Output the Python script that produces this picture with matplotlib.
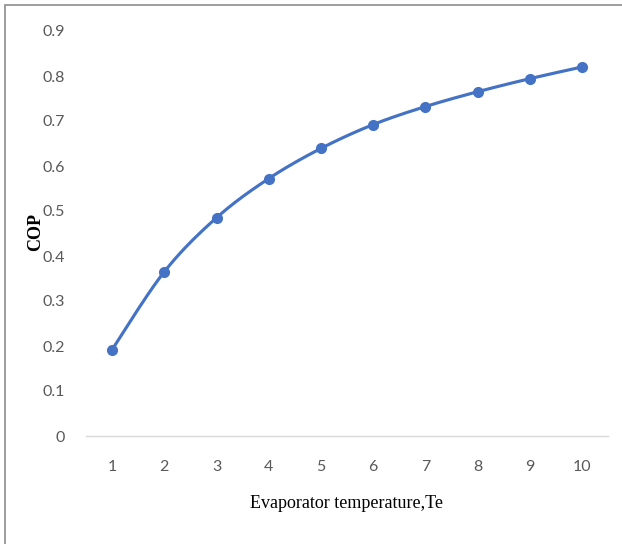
import numpy as np
import matplotlib
matplotlib.use("Agg")
import matplotlib.pyplot as plt
from matplotlib.patches import Rectangle

temps = [1, 2, 3, 4, 5, 6, 7, 8, 9, 10]
cop = [0.192, 0.365, 0.485, 0.572, 0.639, 0.692, 0.732, 0.765, 0.794, 0.820]
yticks = [0, 0.1, 0.2, 0.3, 0.4, 0.5, 0.6, 0.7, 0.8, 0.9]
ytick_labels = ["0", "0.1", "0.2", "0.3", "0.4", "0.5", "0.6", "0.7", "0.8", "0.9"]

BLUE = "#4472C4"
TICKC = "#595959"
tick_font = ["Lato", "DejaVu Sans"]
serif = ["Liberation Serif", "DejaVu Serif"]


def smooth(x, y, n=20):
    # Excel-like smoothing: cardinal spline with duplicated end points
    x = np.asarray(x, float)
    y = np.asarray(y, float)
    px = np.concatenate([[x[0]], x, [x[-1]]])
    py = np.concatenate([[y[0]], y, [y[-1]]])
    xs, ys = [], []
    t = np.linspace(0, 1, n, endpoint=False)
    for i in range(1, len(px) - 2):
        for P, out in ((px, xs), (py, ys)):
            p1, p2 = P[i], P[i + 1]
            c1 = p1 + (P[i + 1] - P[i - 1]) / 6
            c2 = p2 - (P[i + 2] - P[i]) / 6
            out.extend((1 - t) ** 3 * p1 + 3 * (1 - t) ** 2 * t * c1
                       + 3 * (1 - t) * t ** 2 * c2 + t ** 3 * p2)
    xs.append(x[-1])
    ys.append(y[-1])
    return np.array(xs), np.array(ys)


W, H = 622, 544
fig = plt.figure(figsize=(W / 100, H / 100), dpi=100)
fig.patch.set_facecolor("white")

left, right, top, bottom = 86, 608, 31, 436
ax = fig.add_axes([left / W, 1 - bottom / H, (right - left) / W, (bottom - top) / H])

sx, sy = smooth(temps, cop)
ax.plot(sx, sy, color=BLUE, lw=2.25, solid_capstyle="round", zorder=2)
ax.plot(temps, cop, ls="none", marker="o", ms=7, color=BLUE, zorder=3)

ax.set_xlim(0.5, 10.5)
ax.set_ylim(0, 0.9)
ax.set_xticks(temps)
ax.set_xticklabels([str(t) for t in temps], family=tick_font, fontsize=11.5, color=TICKC)
ax.set_yticks(yticks)
ax.set_yticklabels(ytick_labels, family=tick_font, fontsize=11.5, color=TICKC)
ax.tick_params(axis="both", length=0)
ax.tick_params(axis="y", pad=15)
ax.tick_params(axis="x", pad=17)

for s in ("top", "right", "left"):
    ax.spines[s].set_visible(False)
ax.spines["bottom"].set_color("#D9D9D9")
ax.spines["bottom"].set_linewidth(1.0)

fig.text(36 / W, 1 - 232 / H, "COP", rotation=90, ha="center", va="center",
         family=serif, fontweight="bold", fontsize=13, color="black")
fig.text(347 / W, 1 - 503 / H, "Evaporator temperature,Te", ha="center", va="center",
         family=serif, fontsize=13, color="black")

fig.add_artist(Rectangle((5 / W, -0.1), 1.2, 1 - 5 / H + 0.1, transform=fig.transFigure,
                         fill=False, edgecolor="#8C8C8C", lw=1.2))

fig.savefig("out.png", dpi=100)
